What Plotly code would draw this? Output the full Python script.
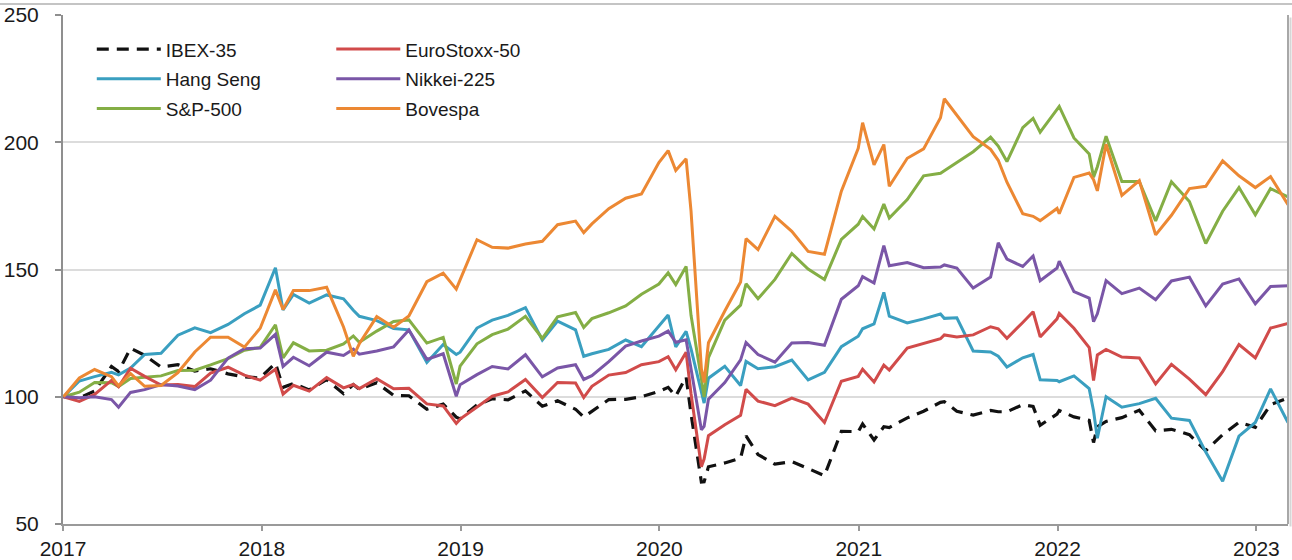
import plotly.graph_objects as go

# Stock indices rebased to 100 at the start of 2017
dates = [
    "2017-01-02", "2017-01-31", "2017-02-28", "2017-03-31", "2017-04-13", "2017-05-05",
    "2017-05-31", "2017-06-30", "2017-07-31", "2017-08-31", "2017-09-29", "2017-10-31",
    "2017-11-30", "2017-12-29", "2018-01-26", "2018-02-09", "2018-02-28", "2018-03-29",
    "2018-04-30", "2018-05-31", "2018-06-18", "2018-06-29", "2018-07-31", "2018-08-31",
    "2018-09-28", "2018-10-31", "2018-11-30", "2018-12-24", "2018-12-31", "2019-01-31",
    "2019-02-28", "2019-03-29", "2019-04-30", "2019-05-31", "2019-06-28", "2019-07-31",
    "2019-08-15", "2019-08-30", "2019-09-30", "2019-10-31", "2019-11-29", "2019-12-31",
    "2020-01-17", "2020-01-31", "2020-02-19", "2020-02-28", "2020-03-18", "2020-03-23",
    "2020-03-31", "2020-04-30", "2020-05-29", "2020-06-08", "2020-06-30", "2020-07-31",
    "2020-08-31", "2020-09-30", "2020-10-30", "2020-11-30", "2020-12-31", "2021-01-08",
    "2021-01-29", "2021-02-16", "2021-02-26", "2021-03-31", "2021-04-30", "2021-05-31",
    "2021-06-07", "2021-06-30", "2021-07-30", "2021-08-31", "2021-09-14", "2021-09-30",
    "2021-10-29", "2021-11-17", "2021-11-30", "2021-12-31", "2022-01-04", "2022-01-31",
    "2022-02-28", "2022-03-08", "2022-03-15", "2022-03-31", "2022-04-29", "2022-05-31",
    "2022-06-30", "2022-07-29", "2022-08-31", "2022-09-30", "2022-10-31", "2022-11-30",
    "2022-12-30", "2023-01-27", "2023-02-28",
]

ibex = [
    100, 99.6, 102.2, 111.9, 109.9, 119.1, 116.3, 111.7, 112.6, 110.1, 111.0, 109.0,
    107.8, 107.4, 113.2, 103.7, 105.2, 102.7, 106.7, 101.2, 104.8, 102.9, 105.5, 100.5,
    100.4, 95.1, 97.1, 92.0, 91.3, 96.8, 99.2, 98.8, 102.3, 96.3, 98.4, 95.1,
    92.0, 94.2, 98.9, 99.0, 100.0, 102.1, 103.7, 100.2, 107.8, 93.3, 66.5, 66.6,
    72.5, 74.0, 75.9, 84.6, 77.3, 73.5, 74.5, 71.8, 69.0, 86.4, 86.3, 89.3,
    83.0, 88.2, 87.9, 91.7, 94.3, 97.8, 98.1, 94.3, 92.8, 94.6, 94.1, 94.1,
    96.9, 96.2, 88.8, 93.2, 94.6, 92.1, 90.7, 82.0, 88.2, 90.3, 91.8, 94.7,
    86.6, 87.2, 85.1, 78.8, 85.1, 90.0, 88.0, 96.9, 99.5,
]

eurostoxx = [
    100, 98.2, 100.9, 106.4, 103.9, 111.2, 108.0, 104.6, 104.8, 104.0, 109.3, 111.6,
    108.5, 106.5, 110.8, 101.0, 104.5, 102.2, 107.5, 103.5, 104.8, 103.2, 107.1, 103.1,
    103.3, 97.2, 96.4, 89.5, 91.2, 96.0, 100.2, 101.9, 106.8, 99.7, 105.6, 105.4,
    99.7, 104.1, 108.5, 109.5, 112.6, 113.8, 115.7, 110.6, 117.5, 101.2, 72.5, 75.5,
    84.7, 89.0, 92.7, 102.9, 98.3, 96.5, 99.5, 97.1, 89.9, 106.1, 108.0, 110.8,
    105.8, 112.4, 110.5, 119.1, 120.8, 122.8, 124.3, 123.5, 124.3, 127.5, 126.7, 123.0,
    129.2, 133.4, 123.5, 130.6, 132.7, 126.9, 119.3, 106.4, 116.4, 118.6, 115.6, 115.2,
    105.0, 112.7, 106.9, 100.8, 109.9, 120.5, 115.3, 127.0, 128.8,
]

hang_seng = [
    100, 106.2, 107.9, 109.6, 108.6, 111.3, 116.6, 117.1, 124.2, 127.1, 125.2, 128.4,
    132.6, 136.0, 150.7, 134.1, 140.2, 136.8, 140.0, 138.5, 134.0, 131.6, 129.9, 126.8,
    126.3, 113.5, 120.5, 116.6, 117.5, 127.0, 130.1, 132.0, 135.0, 122.3, 129.7, 126.3,
    115.9, 116.9, 118.6, 122.3, 119.7, 128.1, 132.1, 119.6, 125.7, 118.8, 101.3, 97.5,
    107.3, 112.0, 104.4, 113.9, 111.0, 111.8, 114.4, 106.6, 109.6, 119.7, 123.8, 126.7,
    128.6, 141.0, 131.7, 129.0, 130.6, 132.5, 130.8, 131.0, 118.0, 117.6, 115.9, 111.7,
    115.3, 116.6, 106.7, 106.4, 105.9, 108.2, 103.2, 94.4, 83.7, 100.0, 95.9, 97.3,
    99.4, 91.6, 90.7, 78.3, 66.8, 84.5, 89.9, 103.1, 89.9,
]

nikkei = [
    100, 99.6, 100.0, 98.9, 95.9, 101.7, 102.8, 104.8, 104.2, 102.8, 106.5, 115.2,
    118.9, 119.1, 124.5, 111.9, 115.5, 112.2, 117.5, 116.2, 118.7, 116.7, 118.0, 119.6,
    126.2, 114.7, 116.9, 100.2, 104.7, 108.7, 111.9, 110.9, 116.5, 107.8, 111.3, 112.6,
    106.8, 108.3, 113.8, 119.9, 121.9, 123.8, 125.8, 121.4, 122.4, 110.6, 87.0, 88.4,
    99.0, 105.6, 114.5, 121.3, 116.6, 113.6, 121.1, 121.3, 120.2, 138.3, 143.6, 147.2,
    144.7, 159.4, 151.5, 152.7, 150.7, 151.0, 151.8, 150.6, 142.7, 147.0, 160.5, 154.1,
    151.2, 155.3, 145.6, 150.6, 153.3, 141.3, 138.8, 129.5, 132.6, 145.6, 140.5, 142.7,
    138.1, 145.5, 147.0, 135.7, 144.3, 146.3, 136.5, 143.3, 143.6,
]

sp500 = [
    100, 101.8, 105.6, 105.5, 104.0, 107.2, 107.7, 108.2, 110.3, 110.4, 112.5, 115.0,
    118.3, 119.4, 128.3, 115.3, 121.2, 118.0, 118.3, 120.8, 123.9, 121.4, 125.8, 129.6,
    130.2, 121.1, 123.3, 105.0, 112.0, 120.8, 124.4, 126.6, 131.6, 122.9, 131.4, 133.1,
    127.2, 130.7, 133.0, 135.7, 140.3, 144.3, 148.7, 144.1, 151.2, 132.0, 107.1, 99.9,
    115.4, 130.1, 136.0, 144.4, 138.5, 146.1, 156.3, 150.2, 146.1, 161.8, 167.8, 170.8,
    165.9, 175.7, 170.2, 177.5, 186.8, 187.8, 188.8, 192.0, 196.3, 202.0, 198.5, 192.4,
    205.7, 209.4, 204.0, 212.9, 214.1, 201.7, 195.4, 186.3, 190.4, 202.4, 184.6, 184.6,
    169.1, 184.5, 176.7, 160.2, 172.9, 182.2, 171.5, 181.8, 178.5,
]

bovespa = [
    100, 107.4, 110.7, 107.9, 104.3, 109.1, 104.1, 104.4, 109.5, 117.6, 123.4, 123.4,
    119.5, 126.9, 142.0, 134.3, 141.7, 141.7, 143.0, 127.4, 115.9, 120.8, 131.5, 127.3,
    131.7, 145.2, 148.6, 142.3, 145.9, 161.7, 158.7, 158.4, 160.0, 161.1, 167.6, 169.0,
    164.5, 167.9, 173.9, 178.0, 179.7, 192.0, 196.7, 188.9, 193.5, 173.0, 111.1, 105.6,
    121.2, 133.7, 145.1, 162.1, 157.8, 170.9, 165.0, 157.1, 156.0, 180.8, 197.6, 207.7,
    191.1, 199.1, 182.7, 193.7, 197.4, 209.6, 217.1, 210.5, 202.2, 197.2, 192.9, 184.3,
    171.9, 170.9, 169.2, 174.0, 171.9, 186.2, 187.9, 185.3, 180.9, 199.2, 179.1, 184.9,
    163.6, 171.3, 181.8, 182.7, 192.7, 186.8, 182.2, 186.5, 175.5,
]

# (name, values, colour, dash, legend)
series = [
    ("IBEX-35", ibex, "#111111", "12px,8px", "legend"),
    ("Hang Seng", hang_seng, "#3A9FC0", "solid", "legend"),
    ("S&P-500", sp500, "#84AE45", "solid", "legend"),
    ("EuroStoxx-50", eurostoxx, "#D14B4A", "solid", "legend2"),
    ("Nikkei-225", nikkei, "#7A56A7", "solid", "legend2"),
    ("Bovespa", bovespa, "#EC8833", "solid", "legend2"),
]

FONT = "Liberation Sans, Arial, sans-serif"

fig = go.Figure()
for name, vals, color, dash, leg in series:
    fig.add_trace(go.Scatter(
        x=dates, y=vals, name=name, mode="lines",
        line=dict(color=color, width=3.2 if name == "IBEX-35" else 3, dash=dash),
        legend=leg, legendgroup=name,
    ))

legend_style = dict(
    font=dict(family=FONT, size=19, color="#1a1a1a"),
    bgcolor="rgba(0,0,0,0)", borderwidth=0,
    xanchor="left", yanchor="top", itemwidth=64,
    traceorder="grouped", tracegroupgap=2,
)

fig.update_layout(
    width=1292, height=560,
    margin=dict(l=63, r=4, t=15, b=36, autoexpand=False),
    paper_bgcolor="white", plot_bgcolor="white",
    showlegend=True,
    legend=dict(x=0.0235, y=0.97, **legend_style),
    legend2=dict(x=0.219, y=0.97, **legend_style),
    xaxis=dict(
        type="date", range=["2017-01-01", "2023-02-28"],
        tick0="2017-01-01", dtick="M12", tickformat="%Y",
        showgrid=False, showline=True, linecolor="#9a9a9a", linewidth=2,
        ticks="outside", ticklen=5, tickcolor="#9a9a9a", tickwidth=2,
        tickfont=dict(family=FONT, size=21, color="#1a1a1a"),
        automargin=False, zeroline=False,
    ),
    yaxis=dict(
        range=[50, 250], tick0=50, dtick=50,
        showgrid=True, gridcolor="#dcdcdc", gridwidth=2,
        showline=True, linecolor="#8f8f8f", linewidth=2,
        ticks="outside", ticklen=6, tickcolor="#8f8f8f", tickwidth=2,
        ticklabelstandoff=12,
        tickfont=dict(family=FONT, size=21, color="#1a1a1a"),
        automargin=False, zeroline=False,
    ),
    shapes=[
        # right edge of the plot frame with a soft shadow
        dict(type="line", xref="paper", yref="paper", x0=1, x1=1, y0=0, y1=1,
             line=dict(color="#a8a8a8", width=2)),
        dict(type="line", xref="paper", yref="paper", xsizemode="pixel", xanchor=1,
             x0=2.5, x1=2.5, y0=-0.005, y1=0.995, line=dict(color="#d6d6d6", width=2)),
        # outer border along the top of the chart
        dict(type="line", xref="paper", yref="paper", ysizemode="pixel", yanchor=1,
             x0=-0.06, x1=1.01, y0=11, y1=11, line=dict(color="#c4c4c4", width=2)),
    ],
)

fig.write_html("out.html")
